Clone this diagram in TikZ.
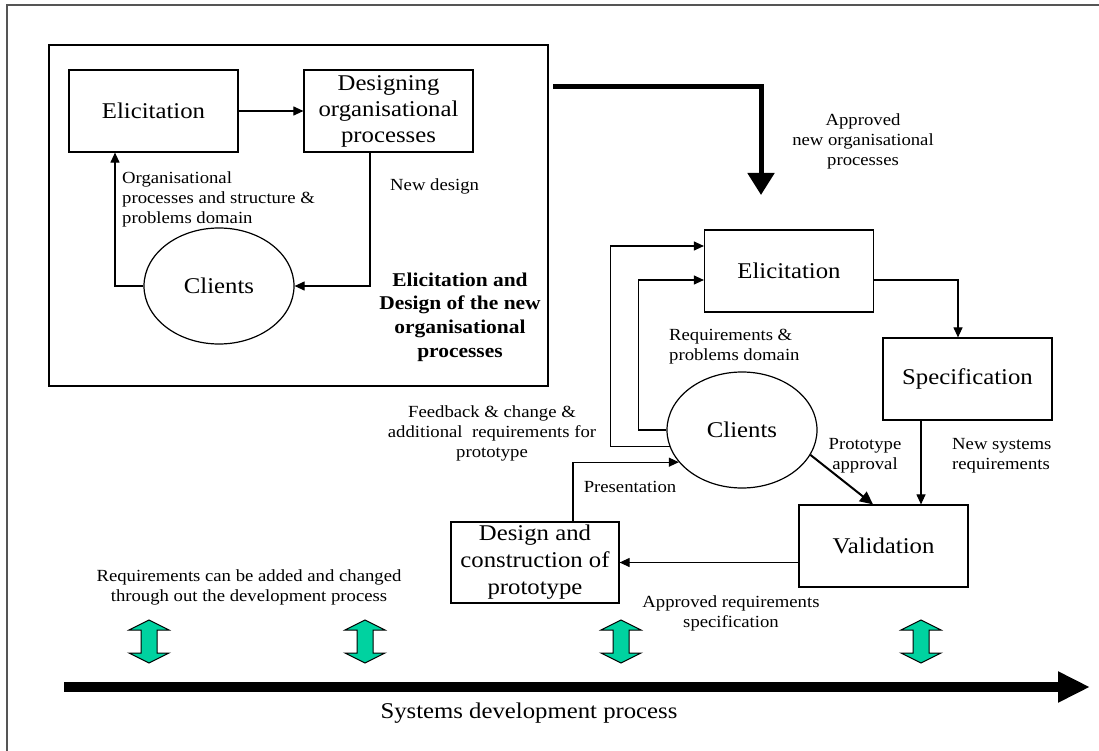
\documentclass[tikz,border=0pt]{standalone}
\usepackage{fontspec}
\setmainfont{Liberation Serif}[FakeStretch=1.1]
\usetikzlibrary{arrows.meta,shapes.geometric}
\definecolor{framegray}{RGB}{85,85,85}
\definecolor{mint}{RGB}{0,210,160}
\newcommand\fBig{\fontsize{22.5}{26}\selectfont}
\newcommand\fLbl{\fontsize{17}{20}\selectfont}
\newcommand\fBld{\fontsize{19.5}{23.7}\selectfont\bfseries}
\begin{document}
\begin{tikzpicture}[x=1pt,y=-1pt,
  procbox/.style={draw, line width=1.2pt, minimum width=169pt, minimum height=82pt,
    inner sep=2pt, align=center, font=\fBig},
  client/.style={draw, ellipse, line width=1.2pt, minimum width=150pt, minimum height=116pt,
    inner sep=0pt, font=\fBig},
  lbl/.style={inner sep=0pt, font=\fLbl, align=center},
  conn/.style={line width=1.1pt, -{Triangle[length=10pt,width=9pt]}},
  boldconn/.style={line width=2pt, -{Triangle[length=13pt,width=12pt]}},
  mainflow/.style={line width=5pt, line join=miter, -{Triangle[length=22pt,width=26pt]}},
  timeline/.style={line width=10pt, -{Triangle[length=32pt,width=29pt]}},
  updown/.style={draw, line width=1pt, fill=mint, line join=miter}]
\useasboundingbox (0,0) rectangle (1099,751);

% outer frame (top and left edges only)
\draw[framegray, line width=1.6pt] (1099,5) -- (7,5) -- (7,751);

% ---- organisational process design panel ----
\node[draw, line width=1.2pt, minimum width=499pt, minimum height=341pt, inner sep=0pt]
  (panel) at (298.5,215.5) {};
\node[procbox] (e1) at (153.5,111) {Elicitation};
\node[procbox] (d1) at (388.5,111) {Designing\\organisational\\processes};
\node[client] (c1) at (219,286) {Clients};
\node[lbl, anchor=west, align=left] (l1) at (122,199)
  {Organisational\\processes and structure \&\\problems domain};
\node[lbl, anchor=west] (l2) at (390,186) {New design};
\node[lbl, font=\fBld] (l3) at (460,317)
  {Elicitation and\\Design of the new\\organisational\\processes};

\draw[conn] (e1) -- (d1);
\draw[conn] (c1.west) -| ([xshift=-38.5pt]e1.south);
\draw[conn] ([xshift=-18.5pt]d1.south) |- (c1.east);

% ---- hand-over to requirements engineering ----
\coordinate (hs) at (553,87);
\coordinate (he) at (761,195);
\draw[mainflow] (hs) -| (he);
\node[lbl] (l4) at (863,141) {Approved\\new organisational\\processes};

% ---- requirements engineering cycle ----
\node[procbox] (e2) at (789,271) {Elicitation};
\node[procbox] (s) at (967.5,379) {Specification};
\node[client] (c2) at (742,430) {Clients};
\node[procbox] (v) at (883.5,546) {Validation};
\node[procbox, minimum width=168pt, minimum height=81pt, font=\fontsize{22.5}{27}\selectfont]
  (d2) at (535,562.5) {Design and\\construction of\\prototype};

\node[lbl, anchor=west, align=left] (l5) at (669,347) {Requirements \&\\problems domain};
\node[lbl] (l6) at (492,433) {Feedback \& change \&\\additional\ \ requirements for\\prototype};
\node[lbl] (l7) at (865,456) {Prototype\\approval};
\node[lbl, anchor=west, align=left] (l8) at (952,456) {New systems\\requirements};
\node[lbl] (l9) at (630,487) {Presentation};
\node[lbl] (l10) at (731,613) {Approved requirements\\specification};

\draw[conn] (c2.west) -- ++(-28,0) |- ([yshift=-9pt]e2.west);
\draw[conn] (c2.193) -- ++(-59,0) |- ([yshift=25pt]e2.west);
\draw[conn] ([yshift=-9pt]e2.east) -| ([xshift=-9.5pt]s.north);
\draw[conn] ([xshift=-46.5pt]s.south) -- ([xshift=-46.5pt]s.south |- v.north);
\draw[boldconn] (c2.340) -- ([xshift=-10.5pt]v.north);
\draw[conn] (v.west |- d2.east) -- (d2.east);
\draw[conn] ([xshift=38pt]d2.north) |- (c2.207);

% ---- development timeline ----
\node[lbl] (l11) at (249,587)
  {Requirements can be added and changed\\through out the development process};
\foreach \px in {149,365,621,921}{
  \draw[updown] (\px-20,630) -- (\px,620) -- (\px+20,630) -- (\px+8,630) -- (\px+8,653)
    -- (\px+20,653) -- (\px,663) -- (\px-20,653) -- (\px-8,653) -- (\px-8,630) -- cycle;
}
\coordinate (ts) at (64,687);
\coordinate (te) at (1090,687);
\draw[timeline] (ts) -- (te);
\node[lbl, font=\fBig] (l12) at (529,713) {Systems development process};
\end{tikzpicture}
\end{document}
